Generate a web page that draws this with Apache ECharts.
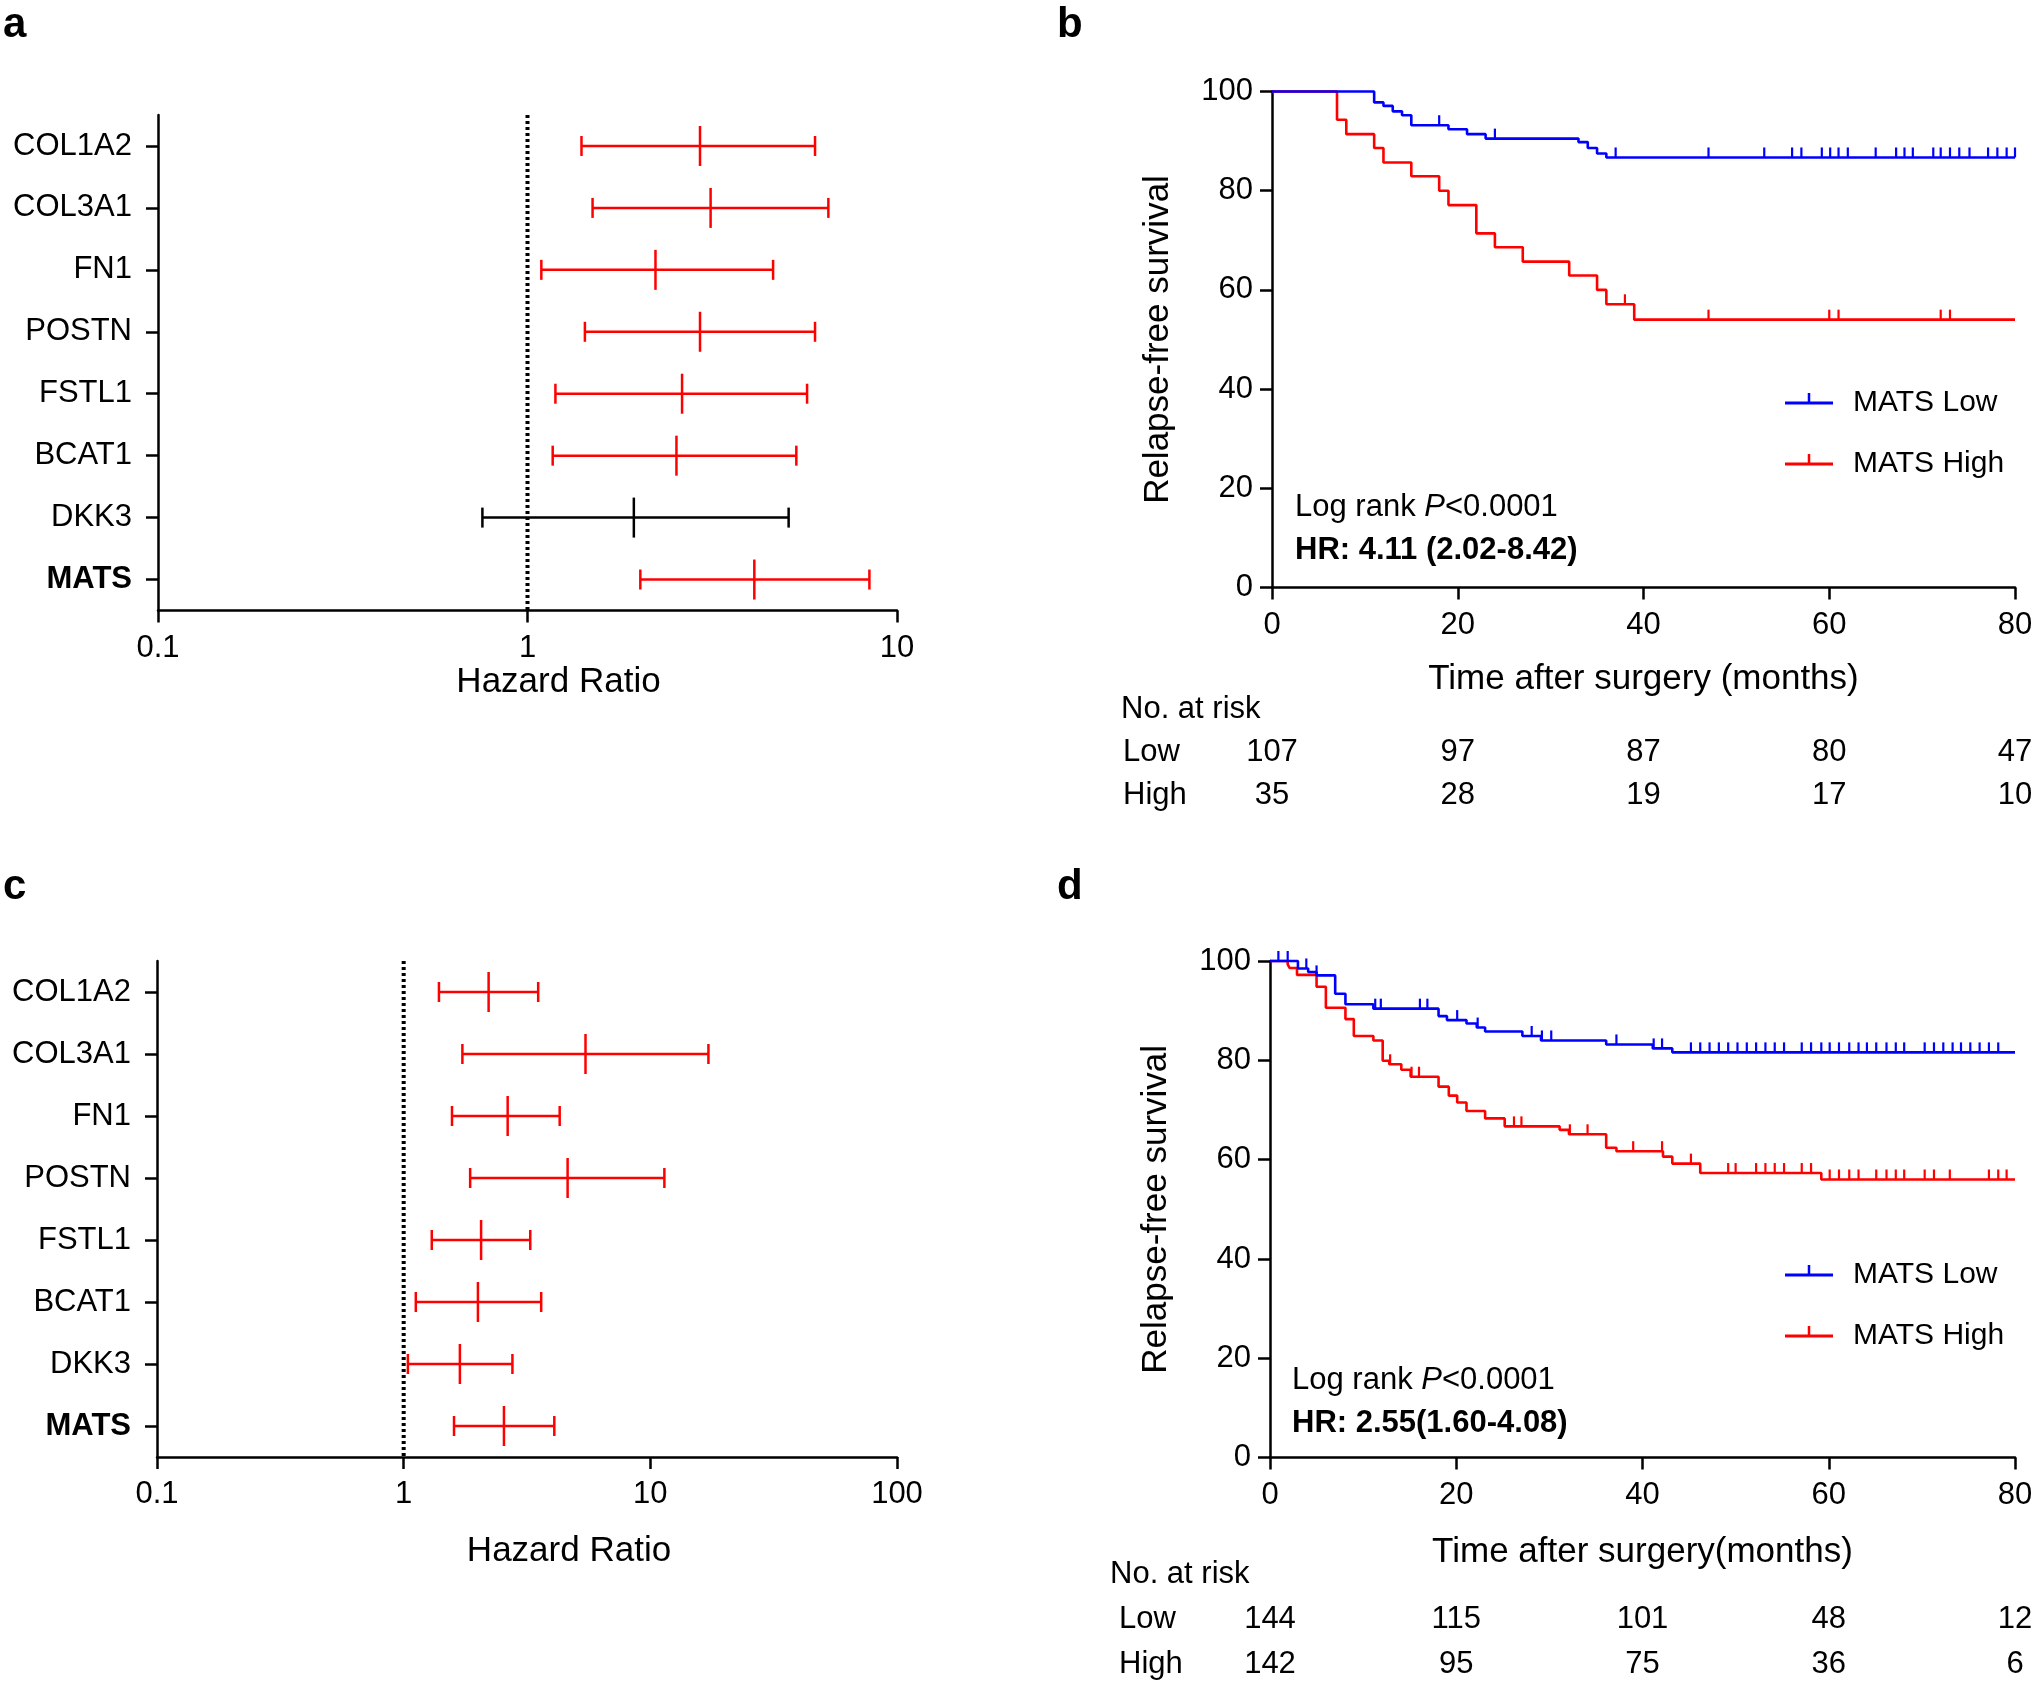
<!DOCTYPE html>
<html><head><meta charset="utf-8">
<script src="https://cdn.jsdelivr.net/npm/echarts@6/dist/echarts.min.js"></script>
<style>html,body{margin:0;padding:0;background:#fff}#c{width:2040px;height:1686px}</style>
</head><body><div id="c"></div>
<script>
// ---------- DATA ----------
const genes = ['COL1A2','COL3A1','FN1','POSTN','FSTL1','BCAT1','DKK3','MATS'];
// panel a (forest)
const aLow  = [1.40, 1.50, 1.09, 1.43, 1.19, 1.17, 0.755, 2.02];
const aHR   = [2.93, 3.13, 2.22, 2.93, 2.62, 2.53, 1.94, 4.11];
const aHigh = [6.00, 6.52, 4.62, 6.00, 5.71, 5.34, 5.09, 8.42];
const aSig  = [true, true, true, true, true, true, false, true];
// panel c (forest)
const cLow  = [1.39, 1.73, 1.57, 1.86, 1.30, 1.12, 1.04, 1.60];
const cHR   = [2.21, 5.46, 2.64, 4.62, 2.06, 2.00, 1.69, 2.55];
const cHigh = [3.51, 17.2, 4.29, 11.4, 3.26, 3.61, 2.76, 4.08];
const cSig  = [true, true, true, true, true, true, true, true];
const refHR = 1;

// panel b (Kaplan-Meier)
const bLowT  = [0, 11, 12, 13, 14, 15, 19, 21, 23, 33, 34, 35, 36, 80];
const bLowS  = [100, 97.8, 97.1, 96.0, 95.2, 93.2, 92.4, 91.4, 90.5, 89.8, 88.6, 87.5, 86.7, 86.7];
const bLowCens = [18, 24, 37, 47, 53, 56, 57, 59.2, 60.1, 61, 62, 65, 67.2, 68.1, 69, 71.2, 72, 73, 74, 75.1, 77.1, 78.1, 79.1, 80];
const bHighT = [0, 7, 8, 11, 12, 15, 18, 19, 22, 24, 27, 32, 35, 36, 39, 80];
const bHighS = [100, 94.3, 91.4, 88.6, 85.7, 82.9, 80.0, 77.1, 71.4, 68.6, 65.7, 62.9, 60.0, 57.1, 54.0, 54.0];
const bHighCens = [38, 47, 60, 61, 72, 73];

// panel d (Kaplan-Meier)
const dLowT = [0, 3, 4.1, 5, 7, 8.1, 11.1, 18.1, 19, 21.1, 22.2, 23.1, 27.1, 29.1, 36.1, 41.1, 43.2, 80];
const dLowS = [100, 98.5, 97.8, 97.1, 93.4, 91.3, 90.4, 88.9, 88.1, 87.4, 86.6, 85.8, 84.9, 84.0, 83.2, 82.4, 81.6, 81.6];
const dLowCens = [0.9, 1.9, 3.9, 5.0, 11.3, 11.9, 16.1, 16.9, 20.1, 22.3, 28.1, 29.2, 30.2, 37.2, 41.2, 42.1,
  45.2, 46.2, 47.2, 48.2, 49.2, 50.2, 51.2, 52.2, 53.2, 54.2, 55.2,
  57.1, 58.1, 59.2, 60.1, 61.1, 62.2, 63.2, 64.1, 65.1, 66.2, 67.2, 68.1,
  70.3, 71.3, 72.3, 73.3, 74.2, 75.2, 76.2, 77.2, 78.2];
const dHighT = [0, 1.9, 2.1, 2.9, 5.0, 6.0, 8.1, 9.0, 11.1, 12.1, 12.8, 14.1, 15.1, 18.1, 19.2, 20.1, 21.1, 23.1, 25.2, 31.1, 32.1, 36.1, 37.2, 42.2, 43.2, 46.2, 59.2, 80];
const dHighS = [100, 99.3, 98.6, 97.2, 94.8, 90.6, 88.3, 84.9, 84.0, 79.9, 79.2, 78.1, 76.7, 74.7, 72.9, 71.5, 69.8, 68.3, 66.7, 66.0, 65.1, 62.4, 61.7, 60.6, 59.2, 57.3, 56.0, 56.0];
const dHighCens = [12.9, 15.2, 16.0, 26.2, 27.0, 32.2, 34.1, 39.0, 42.1, 45.2, 49.2, 50.0, 52.2, 53.2, 54.2, 55.2,
  57.1, 58.1, 60.1, 61.1, 62.2, 63.2, 65.1, 66.2, 67.2, 68.1, 70.3, 71.3, 73.0, 77.2, 78.2, 79.1];

// numbers at risk
const riskTimes = [0, 20, 40, 60, 80];
const riskRows = ['No. at risk', 'Low', 'High'];
const bRiskLow  = [107, 97, 87, 80, 47];
const bRiskHigh = [35, 28, 19, 17, 10];
const dRiskLow  = [144, 115, 101, 48, 12];
const dRiskHigh = [142, 95, 75, 36, 6];

// ---------- STYLE ----------
const FONT = '"Liberation Sans", Arial, sans-serif';
const RED = '#ff0000', BLUE = '#0000ff', BLACK = '#000000';
const AXW = 2.5;

function zip(t, s) { return t.map((v, i) => [v, s[i]]); }
function survAt(T, S, t) { let v = S[0]; for (let i = 0; i < T.length; i++) { if (T[i] <= t) v = S[i]; } return v; }
function cens(T, S, C) { return C.map(t => [t, survAt(T, S, t)]); }

function forestData(lo, hr, hi, sig) {
  return lo.map((v, i) => ({ value: [v, hr[i], hi[i], i], itemStyle: { color: sig[i] ? RED : BLACK } }));
}
function forestRender(params, api) {
  const y = api.value(3);
  const lo = api.coord([api.value(0), y]);
  const md = api.coord([api.value(1), y]);
  const hi = api.coord([api.value(2), y]);
  const st = { stroke: api.visual('color'), lineWidth: 2.5 };
  return { type: 'group', children: [
    { type: 'line', shape: { x1: lo[0], y1: lo[1], x2: hi[0], y2: hi[1] }, style: st },
    { type: 'line', shape: { x1: lo[0], y1: lo[1] - 10, x2: lo[0], y2: lo[1] + 10 }, style: st },
    { type: 'line', shape: { x1: hi[0], y1: hi[1] - 10, x2: hi[0], y2: hi[1] + 10 }, style: st },
    { type: 'line', shape: { x1: md[0], y1: md[1] - 20, x2: md[0], y2: md[1] + 20 }, style: st }
  ]};
}
function refRender(params, api) {
  const cs = params.coordSys;
  const x = api.coord([api.value(0), 0])[0];
  return { type: 'line', shape: { x1: x, y1: cs.y, x2: x, y2: cs.y + cs.height },
    style: { stroke: BLACK, lineWidth: 4, lineDash: [3, 3] } };
}
function censRender(color) {
  return function (params, api) {
    const p = api.coord([api.value(0), api.value(1)]);
    return { type: 'line', shape: { x1: p[0], y1: p[1], x2: p[0], y2: p[1] - 10 },
      style: { stroke: color, lineWidth: 2.2 } };
  };
}

const axisLineS = { show: true, onZero: false, lineStyle: { color: BLACK, width: AXW } };
const axisTickS = { show: true, length: 12, lineStyle: { color: BLACK, width: AXW } };
const lbl = (extra) => Object.assign({ color: BLACK, fontSize: 31, fontFamily: FONT }, extra || {});
const nameS = (extra) => Object.assign({ color: BLACK, fontSize: 35, fontFamily: FONT }, extra || {});
const catFmt = v => v === 'MATS' ? '{b|MATS}' : v;
const catRich = { b: { fontWeight: 'bold', fontSize: 31, fontFamily: FONT, color: BLACK } };
const logFmt = v => String(+Number(v).toPrecision(3));

function forestX(grid, max, gap, shift) {
  return { type: 'log', logBase: 10, gridIndex: grid, min: 0.1, max: max,
    axisLine: axisLineS, axisTick: axisTickS, splitLine: { show: false }, minorTick: { show: false },
    axisLabel: lbl({ margin: 22, formatter: logFmt }),
    name: 'Hazard Ratio', nameLocation: 'middle', nameGap: gap,
    nameTextStyle: nameS({ padding: [0, 0, 0, shift] }) };
}
function forestY(grid) {
  return { type: 'category', gridIndex: grid, data: genes, inverse: true,
    axisLine: axisLineS, axisTick: Object.assign({ alignWithLabel: true }, axisTickS),
    splitLine: { show: false },
    axisLabel: lbl({ margin: 26, formatter: catFmt, rich: catRich }) };
}
function kmX(grid, name, gap) {
  return { type: 'value', gridIndex: grid, min: 0, max: 80, interval: 20,
    axisLine: axisLineS, axisTick: axisTickS, splitLine: { show: false },
    axisLabel: lbl({ margin: 22 }),
    name: name, nameLocation: 'middle', nameGap: gap, nameTextStyle: nameS() };
}
function kmY(grid) {
  return { type: 'value', gridIndex: grid, min: 0, max: 100, interval: 20,
    axisLine: axisLineS, axisTick: axisTickS, splitLine: { show: false },
    axisLabel: lbl({ margin: 19 }),
    name: 'Relapse-free survival', nameLocation: 'middle', nameGap: 96, nameTextStyle: nameS() };
}
function riskX(grid) {
  return { type: 'value', gridIndex: grid, min: 0, max: 80, show: false };
}
function riskY(grid, margin, pad) {
  return { type: 'category', gridIndex: grid, data: riskRows, inverse: true,
    axisLine: { show: false }, axisTick: { show: false }, splitLine: { show: false },
    axisLabel: lbl({ align: 'left', margin: margin,
      formatter: v => v === 'No. at risk' ? v : '{p|' + v + '}',
      rich: { p: { padding: [0, 0, 0, pad], fontSize: 31, fontFamily: FONT, color: BLACK } } }) };
}
function riskSeries(xi, low, high) {
  const data = riskTimes.map((t, i) => [t, 'Low', low[i]]).concat(riskTimes.map((t, i) => [t, 'High', high[i]]));
  return { type: 'scatter', xAxisIndex: xi, yAxisIndex: xi, data: data, symbolSize: 0.01,
    itemStyle: { color: BLACK, opacity: 1 }, silent: true,
    label: { show: true, position: 'inside', formatter: p => String(p.value[2]),
      color: BLACK, opacity: 1, textBorderWidth: 0, fontSize: 31, fontFamily: FONT } };
}
function kmLine(xi, name, color, T, S) {
  return { type: 'line', name: name, xAxisIndex: xi, yAxisIndex: xi, data: zip(T, S), step: 'end',
    symbol: 'none', clip: false, color: color, itemStyle: { color: color },
    lineStyle: { color: color, width: 2.6 }, z: color === BLUE ? 4 : 3 };
}
function kmCens(xi, color, T, S, C) {
  return { type: 'custom', xAxisIndex: xi, yAxisIndex: xi, data: cens(T, S, C), clip: false,
    encode: { x: 0, y: 1 }, renderItem: censRender(color), silent: true, z: 5 };
}
const legendIcon = 'path://M0,0h0.01v0.01h-0.01z M0,10.5h48v3h-48z M22.75,2h2.5v10h-2.5z M0,23.99h0.01v0.01h-0.01z';
function legendAt(top) {
  return { show: true, orient: 'vertical', left: 1785, top: top, padding: 0,
    data: ['MATS Low', 'MATS High'], icon: legendIcon, itemWidth: 48, itemHeight: 24, itemGap: 31,
    selectedMode: false,
    textStyle: { color: BLACK, fontSize: 30, fontFamily: FONT, padding: [0, 0, 0, 15] } };
}
function txt(x, y, text, extra) {
  return { type: 'text', x: x, y: y, silent: true,
    style: Object.assign({ text: text, fill: BLACK, fontSize: 31, fontFamily: FONT,
      align: 'left', verticalAlign: 'middle', textAlign: 'left', textVerticalAlign: 'middle' }, extra || {}) };
}
const italRich = { i: { fontStyle: 'italic', fontSize: 31, fontFamily: FONT, fill: BLACK, color: BLACK } };

const option = {
  animation: false,
  backgroundColor: '#ffffff',
  grid: [
    { left: 158, top: 115, width: 739, height: 495.5, outerBoundsMode: 'none' },   // a
    { left: 157, top: 961, width: 740, height: 496, outerBoundsMode: 'none' },     // c
    { left: 1272, top: 91.5, width: 743, height: 496, outerBoundsMode: 'none' },   // b
    { left: 1270, top: 961, width: 745, height: 496.6, outerBoundsMode: 'none' },  // d
    { left: 1272, top: 687.5, width: 743, height: 129, outerBoundsMode: 'none' },  // b risk
    { left: 1270, top: 1551.5, width: 745, height: 135, outerBoundsMode: 'none' }  // d risk
  ],
  xAxis: [
    forestX(0, 10, 54, 62),
    forestX(1, 100, 77, 84),
    kmX(2, 'Time after surgery (months)', 74),
    kmX(3, 'Time after surgery(months)', 77),
    riskX(4), riskX(5)
  ],
  yAxis: [
    forestY(0), forestY(1), kmY(2), kmY(3),
    riskY(4, 151, 2), riskY(5, 160, 9)
  ],
  legend: [legendAt(388), legendAt(1260)],
  series: [
    { type: 'custom', xAxisIndex: 0, yAxisIndex: 0, data: [[refHR, 0]], encode: { x: 0, y: 1 }, renderItem: refRender, silent: true },
    { type: 'custom', xAxisIndex: 0, yAxisIndex: 0, data: forestData(aLow, aHR, aHigh, aSig), encode: { x: [0, 1, 2], y: 3 }, renderItem: forestRender, silent: true },
    { type: 'custom', xAxisIndex: 1, yAxisIndex: 1, data: [[refHR, 0]], encode: { x: 0, y: 1 }, renderItem: refRender, silent: true },
    { type: 'custom', xAxisIndex: 1, yAxisIndex: 1, data: forestData(cLow, cHR, cHigh, cSig), encode: { x: [0, 1, 2], y: 3 }, renderItem: forestRender, silent: true },
    kmLine(2, 'MATS Low', BLUE, bLowT, bLowS),
    kmLine(2, 'MATS High', RED, bHighT, bHighS),
    kmCens(2, BLUE, bLowT, bLowS, bLowCens),
    kmCens(2, RED, bHighT, bHighS, bHighCens),
    kmLine(3, 'MATS Low', BLUE, dLowT, dLowS),
    kmLine(3, 'MATS High', RED, dHighT, dHighS),
    kmCens(3, BLUE, dLowT, dLowS, dLowCens),
    kmCens(3, RED, dHighT, dHighS, dHighCens),
    riskSeries(4, bRiskLow, bRiskHigh),
    riskSeries(5, dRiskLow, dRiskHigh)
  ],
  graphic: [
    txt(3, 25, 'a', { fontSize: 42, fontWeight: 'bold' }),
    txt(1057, 25, 'b', { fontSize: 42, fontWeight: 'bold' }),
    txt(3, 887, 'c', { fontSize: 42, fontWeight: 'bold' }),
    txt(1057, 887, 'd', { fontSize: 42, fontWeight: 'bold' }),
    txt(1295, 507, 'Log rank {i|P}<0.0001', { rich: italRich }),
    txt(1295, 550, 'HR: 4.11 (2.02-8.42)', { fontWeight: 'bold' }),
    txt(1292, 1380, 'Log rank {i|P}<0.0001', { rich: italRich }),
    txt(1292, 1423, 'HR: 2.55(1.60-4.08)', { fontWeight: 'bold' })
  ]
};

const chart = echarts.init(document.getElementById('c'), null, { renderer: 'canvas', width: 2040, height: 1686 });
chart.setOption(option);
</script>
</body></html>
